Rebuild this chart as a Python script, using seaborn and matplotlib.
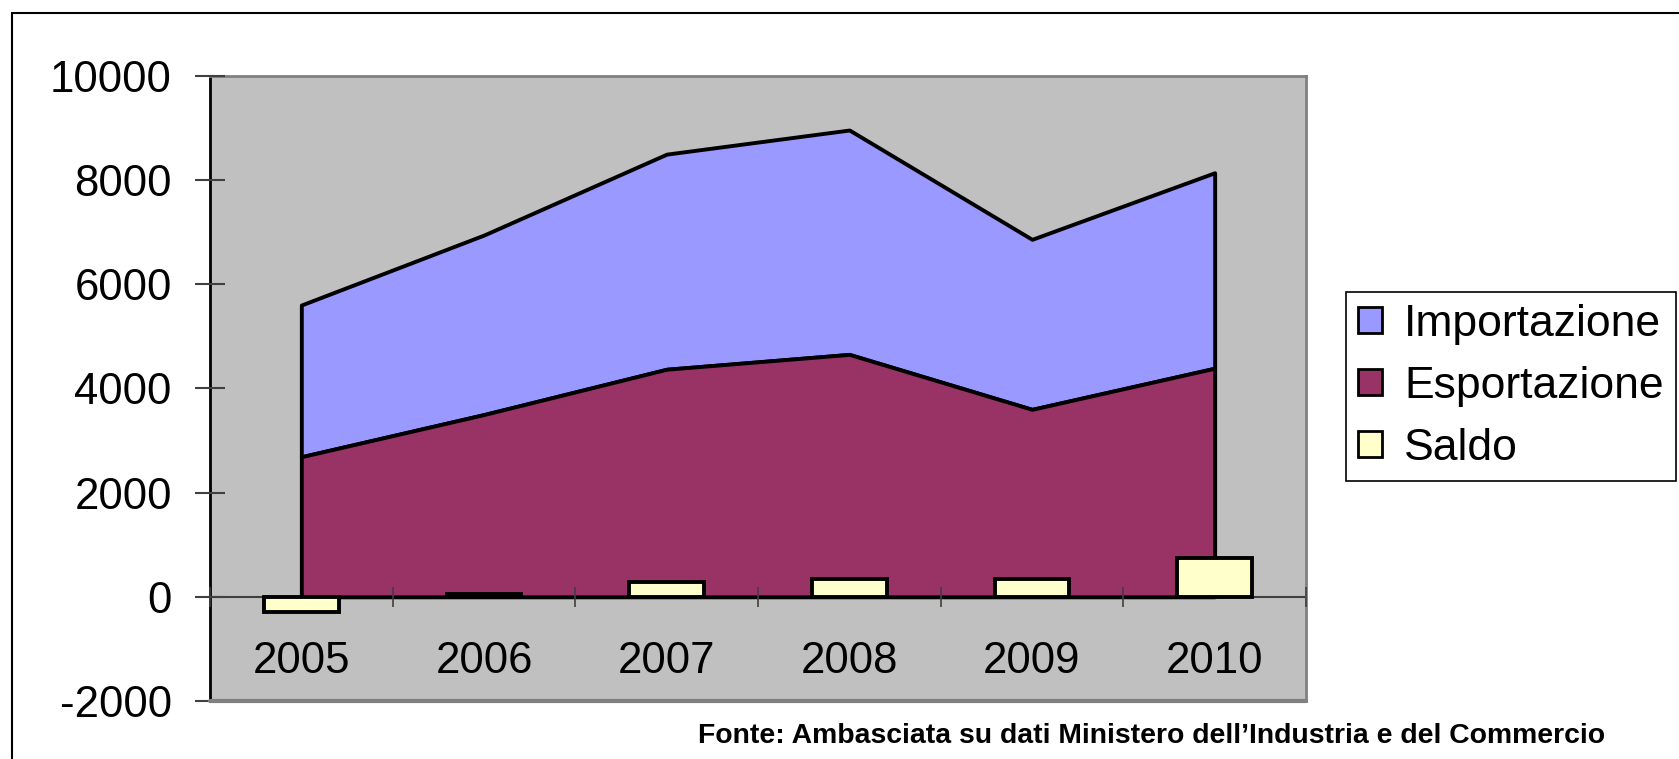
import matplotlib
matplotlib.use("Agg")
import matplotlib.pyplot as plt
import seaborn as sns
from matplotlib.patches import Patch, Rectangle

# Valori (milioni)
years = ["2005", "2006", "2007", "2008", "2009", "2010"]
esportazione = [2690, 3500, 4370, 4655, 3600, 4390]
importazione = [2913, 3447, 4130, 4308, 3264, 3753]
saldo = [-290, 50, 285, 350, 350, 750]
fonte = "Fonte: Ambasciata su dati Ministero dell’Industria e del Commercio"

sns.set_style("white")
plt.rcParams["font.family"] = ["Liberation Sans", "DejaVu Sans"]
plt.rcParams["axes.unicode_minus"] = False
plt.rcParams["text.color"] = "black"
plt.rcParams["xtick.color"] = "black"
plt.rcParams["ytick.color"] = "black"

fig = plt.figure(figsize=(16.79, 7.59), dpi=100)
ax = fig.add_axes([0.12507, 0.07642, 0.65277, 0.82345])
ax.set_facecolor("#C0C0C0")
ax.set_axisbelow(False)

# Saldo as bars
sns.barplot(x=years, y=saldo, color="#FFFFCC", saturation=1, edgecolor="black",
            linewidth=2.8, width=0.41, ax=ax, zorder=3)

# stacked areas
x = list(range(len(years)))
totale = [e + i for e, i in zip(esportazione, importazione)]
ax.fill_between(x, esportazione, totale, facecolor="#9999FF", edgecolor="black",
                linewidth=2.8, zorder=2)
ax.fill_between(x, 0, esportazione, facecolor="#993366", edgecolor="black",
                linewidth=2.8, zorder=2)

ax.set_xlim(-0.5, 5.5)
ax.set_ylim(-2000, 10000)
ax.set_yticks(range(-2000, 10001, 2000))
ax.set_xticks(x, labels=years)
ax.set_xticks([v - 0.5 for v in range(len(years) + 1)], minor=True)
ax.set_xlabel("")
ax.set_ylabel("")

ax.tick_params(axis="x", which="both", bottom=True)
ax.tick_params(axis="x", which="major", length=0, pad=32, labelsize=31.5)
ax.tick_params(axis="x", which="minor", direction="inout", length=15, width=1.2,
               color="#404040")
ax.tick_params(axis="y", left=True, direction="inout", length=21, width=1.5,
               color="#404040", pad=17, labelsize=31.5)

ax.spines["bottom"].set_position(("data", 0))
ax.spines["bottom"].set_color("#404040")
ax.spines["bottom"].set_linewidth(1.5)
ax.spines["bottom"].set_zorder(1.5)
ax.spines["left"].set_color("black")
ax.spines["left"].set_linewidth(2)
for s in ["top", "right"]:
    ax.spines[s].set_color("#808080")
    ax.spines[s].set_linewidth(2)
ax.axhline(-2000, color="#808080", linewidth=3, clip_on=False, zorder=4)

handles = [
    Patch(facecolor="#9999FF", edgecolor="black", linewidth=2, label="Importazione"),
    Patch(facecolor="#993366", edgecolor="black", linewidth=2, label="Esportazione"),
    Patch(facecolor="#FFFFCC", edgecolor="black", linewidth=2, label="Saldo"),
]
leg = fig.legend(handles=handles, loc="center left",
                 bbox_to_anchor=(1346 / 1679, 1 - 386.5 / 759),
                 bbox_transform=fig.transFigure, frameon=True, fancybox=False,
                 edgecolor="black", framealpha=1, fontsize=32, handlelength=0.52,
                 handleheight=0.52, handletextpad=0.51, labelspacing=0.47,
                 borderpad=0.28, borderaxespad=0)
leg.get_frame().set_linewidth(1.2)

fig.text(698 / 1679, 1 - 736 / 759, fonte, ha="left", va="center", fontsize=20.4,
         fontweight="bold")

# outer chart frame (runs past the right and bottom edges of the picture)
fig.patches.append(Rectangle((12 / 1679, -0.05), 1.0, 1.05 - 13 / 759,
                             transform=fig.transFigure, fill=False,
                             edgecolor="black", linewidth=1.5))

plt.savefig("out.png", dpi=100)
